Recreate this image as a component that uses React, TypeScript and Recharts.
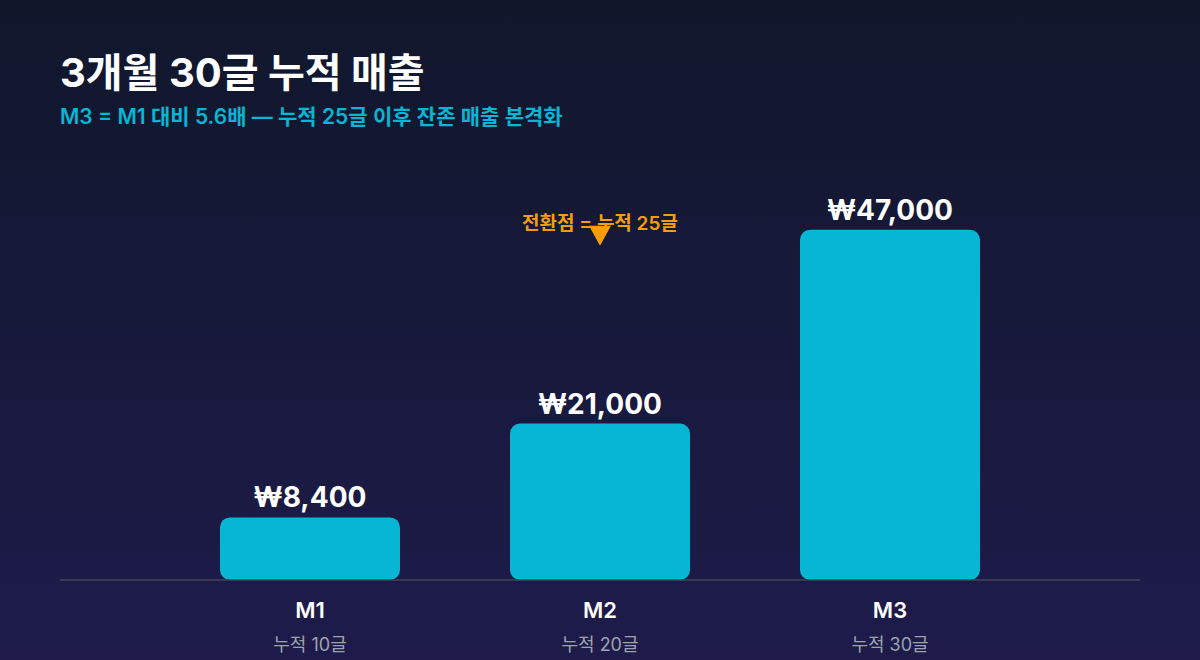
import React from 'react'
import { BarChart, Bar, XAxis, YAxis, LabelList, ReferenceDot } from 'recharts'

const months = ['M1', 'M2', 'M3']
const cumulativePosts = ['누적 10글', '누적 20글', '누적 30글']
const revenue = [8400, 21000, 47000]

const turningPointMonth = 'M2'
const turningPointValue = 46200
const turningPointLabel = '전환점 = 누적 25글'

const FONT = "Inter, 'Noto Sans CJK KR', 'Noto Sans', sans-serif"

const data = months.map((m, i) => ({ month: m, posts: cumulativePosts[i], revenue: revenue[i] }))

const MonthTick = (props: any) => {
  const { x, y, payload } = props
  const idx = months.indexOf(payload.value)
  return (
    <g fontFamily={FONT}>
      <text x={x} y={y + 30} textAnchor="middle" fill="#ffffff" fontSize={22} fontWeight={600}>
        {payload.value}
      </text>
      <text x={x} y={y + 63} textAnchor="middle" fill="#9ca3af" fontSize={18}>
        {cumulativePosts[idx]}
      </text>
    </g>
  )
}

const TurningPoint = (props: any) => {
  const { cx, cy } = props
  return (
    <g fontFamily={FONT}>
      <text x={cx} y={cy - 6} textAnchor="middle" fill="#f59e0b" fontSize={19} fontWeight={600}>
        {turningPointLabel}
      </text>
      <path d={`M${cx - 11},${cy - 10} L${cx + 11},${cy - 10} L${cx},${cy + 10} Z`} fill="#f59e0b" />
    </g>
  )
}

export default function App() {
  return (
    <div
      style={{
        position: 'relative',
        width: 1200,
        height: 660,
        overflow: 'hidden',
        background: 'linear-gradient(180deg, #10172b 0%, #1e1b4b 100%)',
        fontFamily: FONT,
      }}
    >
      <style>{`body{margin:0}`}</style>
      <div style={{ position: 'absolute', left: 60, top: 47, color: '#ffffff', fontSize: 40, fontWeight: 700, lineHeight: '52px' }}>
        3개월 30글 누적 매출
      </div>
      <div style={{ position: 'absolute', left: 60, top: 103, color: '#06b6d4', fontSize: 21, fontWeight: 600, lineHeight: '28px' }}>
        M3 = M1 대비 5.6배 — 누적 25글 이후 잔존 매출 본격화
      </div>
      <div style={{ position: 'absolute', left: 0, top: 0 }}>
        <BarChart width={1200} height={660} data={data} margin={{ top: 133, right: 60, bottom: 0, left: 60 }}>
          <XAxis
            dataKey="month"
            height={80}
            padding={{ left: 105, right: 105 }}
            axisLine={{ stroke: '#3f4757', strokeWidth: 1.5 }}
            tickLine={false}
            tick={<MonthTick />}
            interval={0}
          />
          <YAxis hide domain={[0, 60000]} />
          <Bar dataKey="revenue" fill="#06b6d4" barSize={180} radius={[10, 10, 10, 10]} isAnimationActive={false}>
            <LabelList
              dataKey="revenue"
              position="top"
              offset={10}
              fill="#ffffff"
              fontSize={28}
              fontWeight={700}
              fontFamily={FONT}
              formatter={(v: any) => `₩${Number(v).toLocaleString('en-US')}`}
            />
          </Bar>
          <ReferenceDot x={turningPointMonth} y={turningPointValue} shape={<TurningPoint />} />
        </BarChart>
      </div>
    </div>
  )
}
